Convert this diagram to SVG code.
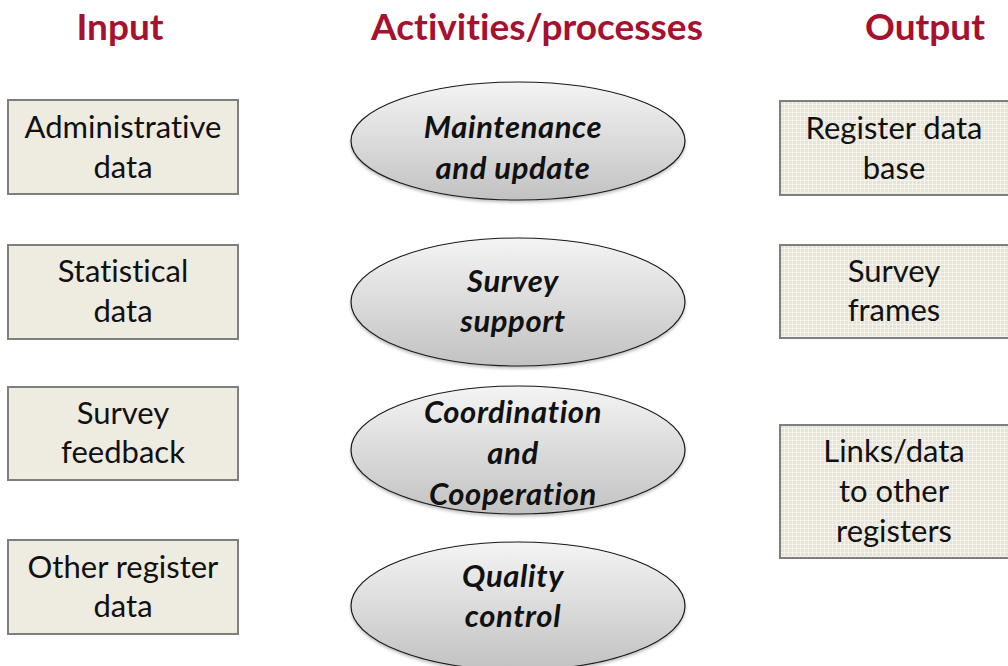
<svg xmlns="http://www.w3.org/2000/svg" width="1008" height="666" viewBox="0 0 1008 666">
  <defs>
    <linearGradient id="ovalFill" x1="0" y1="0" x2="0" y2="1">
      <stop offset="0" stop-color="#f4f4f4"/>
      <stop offset="1" stop-color="#c2c2c2"/>
    </linearGradient>
    <pattern id="gridFill" width="4" height="4" patternUnits="userSpaceOnUse">
      <rect width="4" height="4" fill="#e6e4d6"/>
      <path d="M0 0.5H4M0.5 0V4" stroke="#f4f2ea" stroke-width="1"/>
    </pattern>
    <filter id="softShadow" x="-10%" y="-10%" width="120%" height="130%">
      <feDropShadow dx="0" dy="2" stdDeviation="1.5" flood-color="#000" flood-opacity="0.25"/>
    </filter>
  </defs>
  <style>
    text { font-variant-ligatures: none; font-family: Lato, "Liberation Sans", sans-serif; text-anchor: middle; }
    .head { font-weight: bold; font-size: 37px; fill: #a8102f; }
    .box-in { fill: #eeebe0; stroke: #7f7f7f; stroke-width: 2; }
    .box-out { fill: url(#gridFill); stroke: #7f7f7f; stroke-width: 2; }
    .oval { fill: url(#ovalFill); stroke: #1a1a1a; stroke-width: 1.2; filter: url(#softShadow); }
    .lbl { font-size: 31px; fill: #111; }
    .act { font-size: 31px; letter-spacing: 0.6px; font-weight: bold; font-style: italic; fill: #111; }
  </style>

  <rect width="1008" height="666" fill="#ffffff"/>

  <!-- column headings -->
  <g id="headings">
    <text class="head" x="120" y="40">Input</text>
    <text class="head" x="537" y="40">Activities/processes</text>
    <text class="head" x="925" y="40">Output</text>
  </g>

  <!-- input sources -->
  <g id="in-admin">
    <rect class="box-in" x="8" y="100" width="230" height="94"/>
    <text class="lbl" x="123" y="138">Administrative</text>
    <text class="lbl" x="123" y="178">data</text>
  </g>
  <g id="in-stat">
    <rect class="box-in" x="8" y="245" width="230" height="94"/>
    <text class="lbl" x="123" y="282">Statistical</text>
    <text class="lbl" x="123" y="322">data</text>
  </g>
  <g id="in-feedback">
    <rect class="box-in" x="8" y="387" width="230" height="93"/>
    <text class="lbl" x="123" y="424">Survey</text>
    <text class="lbl" x="123" y="463">feedback</text>
  </g>
  <g id="in-other">
    <rect class="box-in" x="8" y="540" width="230" height="94"/>
    <text class="lbl" x="123" y="578">Other register</text>
    <text class="lbl" x="123" y="617">data</text>
  </g>

  <!-- activities -->
  <g id="act-maintenance">
    <ellipse class="oval" cx="518" cy="141" rx="167" ry="59"/>
    <text class="act" x="513" y="138">Maintenance</text>
    <text class="act" x="513" y="179">and update</text>
  </g>
  <g id="act-survey">
    <ellipse class="oval" cx="518" cy="302" rx="167" ry="64"/>
    <text class="act" x="513" y="292">Survey</text>
    <text class="act" x="513" y="332">support</text>
  </g>
  <g id="act-coordination">
    <ellipse class="oval" cx="518" cy="450" rx="167" ry="64"/>
    <text class="act" x="513" y="423">Coordination</text>
    <text class="act" x="513" y="464">and</text>
    <text class="act" x="513" y="505">Cooperation</text>
  </g>
  <g id="act-quality">
    <ellipse class="oval" cx="518" cy="606" rx="167" ry="64"/>
    <text class="act" x="513" y="587">Quality</text>
    <text class="act" x="513" y="627">control</text>
  </g>

  <!-- outputs -->
  <g id="out-database">
    <rect class="box-out" x="780" y="101" width="230" height="94"/>
    <text class="lbl" x="894" y="139">Register data</text>
    <text class="lbl" x="894" y="179">base</text>
  </g>
  <g id="out-frames">
    <rect class="box-out" x="780" y="245" width="230" height="93"/>
    <text class="lbl" x="894" y="282">Survey</text>
    <text class="lbl" x="894" y="321">frames</text>
  </g>
  <g id="out-links">
    <rect class="box-out" x="780" y="425" width="230" height="133"/>
    <text class="lbl" x="894" y="462">Links/data</text>
    <text class="lbl" x="894" y="502">to other</text>
    <text class="lbl" x="894" y="542">registers</text>
  </g>

  <g id="connectors"/>
</svg>
